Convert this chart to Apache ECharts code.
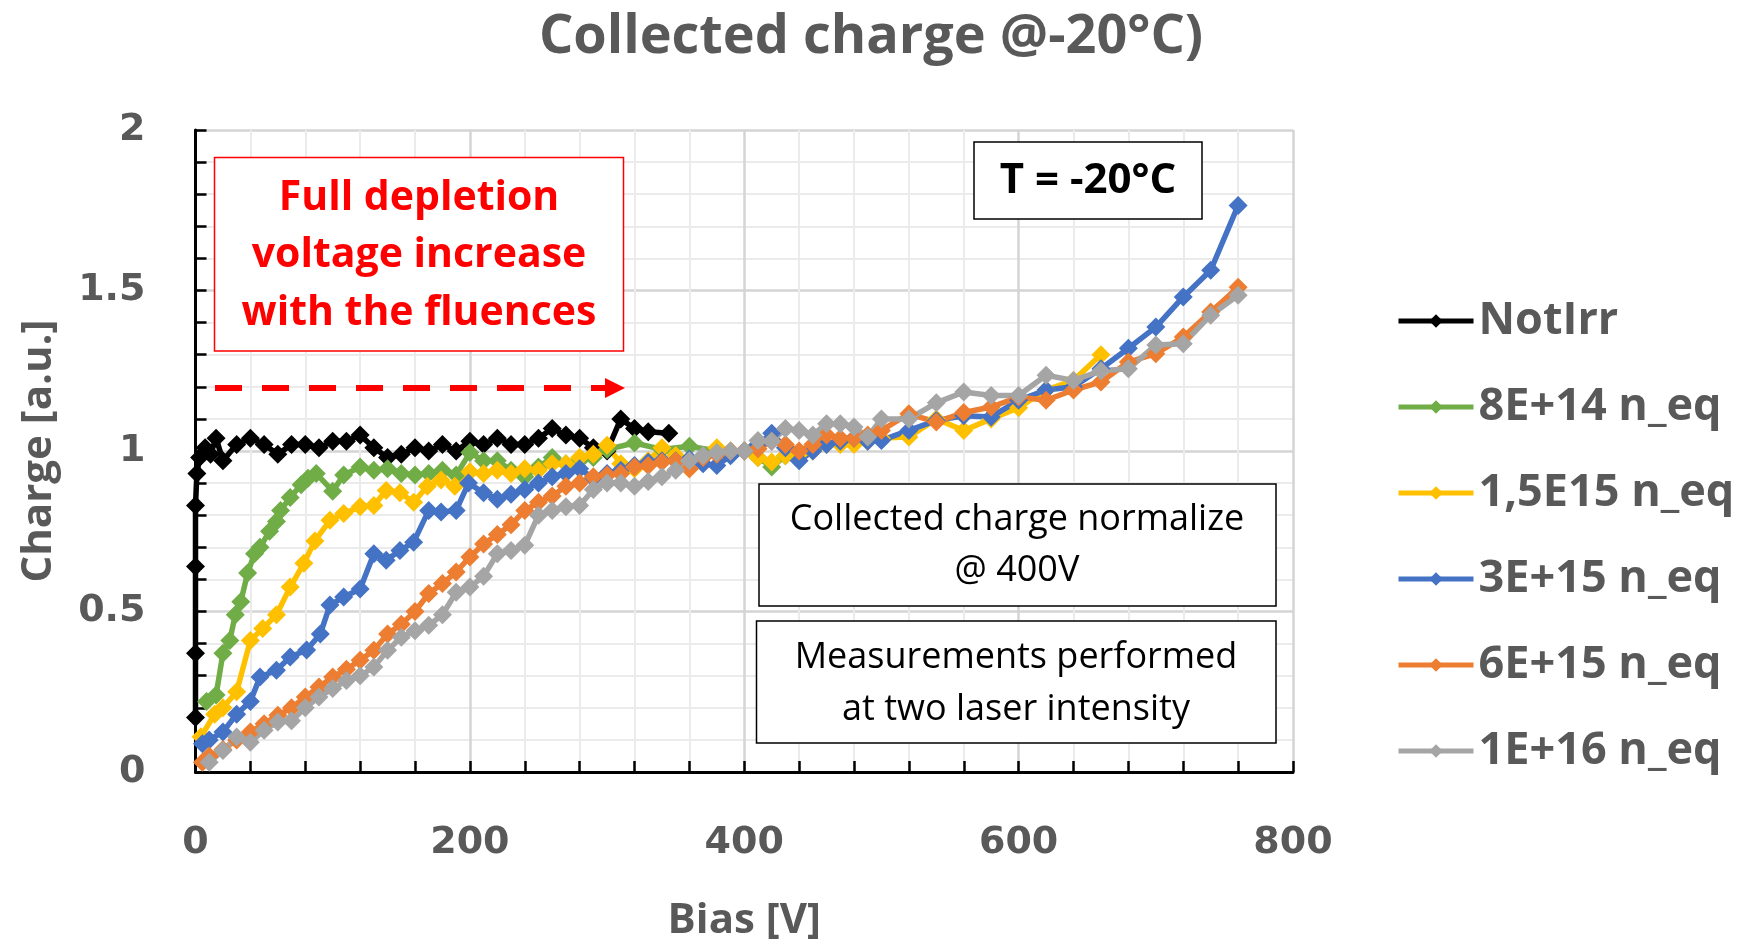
<!DOCTYPE html>
<html><head><meta charset="utf-8">
<script src="https://cdn.jsdelivr.net/npm/echarts@6/dist/echarts.min.js"></script>
<style>html,body{margin:0;padding:0;background:#fff}#c{width:1752px;height:942px}</style>
</head><body><div id="c"></div>
<script>
// ---------- data ----------
const seriesNames = ['NotIrr', '8E+14 n_eq', '1,5E15 n_eq', '3E+15 n_eq', '6E+15 n_eq', '1E+16 n_eq'];
const seriesColors = ['#000000', '#70AD47', '#FFC000', '#4472C4', '#ED7D31', '#A5A5A5'];

const notIrrV = [0,0,0,0,1,3,7,11,15,20,30,40,50,60,70,80,90,100,110,120,130,140,150,160,170,180,190,200,210,220,230,240,250,260,270,280,290,300,310,320,330,345];
const notIrrQ = [0.17,0.37,0.64,0.83,0.93,0.98,1.01,0.99,1.04,0.97,1.02,1.04,1.02,0.99,1.02,1.02,1.01,1.03,1.03,1.05,1.01,0.98,0.99,1.01,1.00,1.02,1.00,1.03,1.02,1.04,1.02,1.02,1.04,1.07,1.05,1.04,1.01,1.00,1.10,1.07,1.06,1.055];

const f8e14V = [8,15,20,25,29,33,38,43,47,54,59,62,69,77,82,88,100,108,120,130,140,150,160,170,180,190,200,210,220,230,240,250,260,270,280,290,300,320,340,360,380,400,410,420,430,440];
const f8e14Q = [0.22,0.24,0.37,0.41,0.49,0.53,0.62,0.68,0.70,0.75,0.78,0.815,0.855,0.895,0.915,0.93,0.875,0.925,0.95,0.94,0.945,0.93,0.925,0.93,0.94,0.925,0.995,0.97,0.97,0.94,0.92,0.95,0.98,0.96,0.97,0.98,1.005,1.025,1.005,1.015,1.0,1.0,0.98,0.95,0.985,0.99];

const f15e15V = [4,14,20,30,40,49,59,69,79,87,98,108,120,130,139,149,159,169,179,189,200,210,220,230,240,250,260,270,280,290,300,310,320,330,340,350,360,370,380,390,400,410,420,430,440,450,460,470,480,490,500,520,540,560,580,600,620,640,660];
const f15e15Q = [0.11,0.18,0.20,0.25,0.41,0.447,0.49,0.576,0.65,0.72,0.784,0.805,0.826,0.83,0.877,0.87,0.84,0.89,0.91,0.89,0.935,0.93,0.94,0.93,0.945,0.94,0.96,0.96,0.98,0.99,1.018,0.96,0.945,0.97,1.01,0.986,0.945,0.98,1.01,1.0,1.0,0.98,0.966,0.986,0.99,1.0,1.02,1.02,1.02,1.03,1.04,1.044,1.1,1.064,1.1,1.135,1.19,1.22,1.3];

const f3e15V = [5,10,20,30,40,47,59,69,81,91,98,108,120,130,139,149,159,170,179,190,199,210,220,230,240,250,260,270,280,290,300,310,320,330,340,350,360,370,380,390,400,410,420,430,440,450,460,470,480,490,500,520,540,560,580,600,620,640,660,680,700,720,740,760];
const f3e15Q = [0.088,0.10,0.125,0.18,0.22,0.296,0.317,0.358,0.38,0.43,0.52,0.545,0.57,0.68,0.66,0.69,0.716,0.815,0.81,0.815,0.90,0.87,0.85,0.865,0.88,0.90,0.92,0.93,0.945,0.915,0.93,0.94,0.955,0.965,0.97,0.97,0.975,0.96,0.955,0.985,1.0,1.02,1.055,1.01,0.97,1.0,1.02,1.03,1.04,1.03,1.033,1.064,1.095,1.11,1.106,1.158,1.19,1.2,1.256,1.32,1.386,1.48,1.563,1.765];

const f6e15V = [5,10,20,30,40,50,60,70,80,90,100,110,120,130,140,150,160,170,180,190,200,210,220,230,240,250,260,270,280,290,300,310,320,330,340,350,360,370,380,390,400,410,420,430,440,450,460,470,480,490,500,520,540,560,580,600,620,640,660,680,700,720,740,760];
const f6e15Q = [0.03,0.05,0.07,0.10,0.125,0.15,0.177,0.20,0.234,0.265,0.296,0.32,0.348,0.379,0.43,0.46,0.50,0.556,0.587,0.623,0.67,0.71,0.74,0.77,0.815,0.84,0.86,0.89,0.90,0.92,0.925,0.93,0.95,0.955,0.966,0.97,0.945,0.98,0.99,1.0,1.0,1.007,1.03,1.02,1.0,1.02,1.05,1.04,1.04,1.05,1.064,1.116,1.09,1.12,1.137,1.168,1.158,1.19,1.215,1.277,1.303,1.355,1.433,1.51];

const f1e16V = [10,20,30,40,50,60,70,80,90,100,110,120,130,140,150,160,170,180,190,200,210,220,230,240,250,260,270,280,290,300,310,320,330,340,350,360,370,380,390,400,410,420,430,440,450,460,470,480,490,500,520,540,560,580,600,620,640,660,680,700,720,740,760];
const f1e16Q = [0.03,0.067,0.109,0.093,0.13,0.156,0.16,0.2,0.234,0.26,0.285,0.30,0.327,0.379,0.42,0.44,0.457,0.49,0.56,0.576,0.61,0.68,0.69,0.706,0.80,0.815,0.826,0.83,0.88,0.90,0.90,0.89,0.905,0.92,0.94,0.97,0.986,0.995,1.0,1.0,1.033,1.03,1.07,1.064,1.05,1.085,1.085,1.075,1.044,1.1,1.1,1.15,1.184,1.173,1.173,1.236,1.22,1.25,1.256,1.33,1.334,1.423,1.485];

const seriesV = [notIrrV, f8e14V, f15e15V, f3e15V, f6e15V, f1e16V];
const seriesQ = [notIrrQ, f8e14Q, f15e15Q, f3e15Q, f6e15Q, f1e16Q];

const titleText = 'Collected charge @-20°C)';
const xName = 'Bias [V]';
const yName = 'Charge [a.u.]';
const redNote = ['Full depletion', 'voltage increase', 'with the fluences'];
const tempNote = 'T = -20°C';
const normNote = ['Collected charge normalize', '@ 400V'];
const measNote = ['Measurements performed', 'at two laser intensity'];

// ---------- chart ----------
const chart = echarts.init(document.getElementById('c'));
const gray = '#595959';
const tickFont = {fontFamily: 'DejaVu Sans', fontWeight: 'bold', fontSize: 38, color: gray};

const series = seriesNames.map((name, i) => ({
  name: name,
  type: 'line',
  data: seriesV[i].map((v, k) => [v, seriesQ[i][k]]),
  symbol: 'diamond',
  symbolSize: 19,
  color: seriesColors[i],
  lineStyle: {width: 5.5, color: seriesColors[i]},
  itemStyle: {color: seriesColors[i]},
  emphasis: {disabled: true}
}));

function boxText(lines, cx, ys, font, color) {
  return lines.map((t, i) => ({
    type: 'text', z: 101,
    style: {x: cx, y: ys[i], text: t, textAlign: 'center', textVerticalAlign: 'middle',
      font: font, fill: color}
  }));
}

const graphics = [
  {type: 'rect', z: 100, shape: {x: 214.5, y: 157.5, width: 409, height: 193.5},
    style: {fill: '#fff', stroke: '#FF0000', lineWidth: 1.5}},
  ...boxText(redNote, 419, [198, 255, 313], 'bold 41px "Open Sans"', '#FF0000'),
  {type: 'line', z: 100, shape: {x1: 215, y1: 388, x2: 606, y2: 388},
    style: {stroke: '#FF0000', lineWidth: 6, lineDash: [27, 20]}},
  {type: 'polygon', z: 100, shape: {points: [[605, 378], [625, 388], [605, 398]]},
    style: {fill: '#FF0000'}},
  {type: 'rect', z: 100, shape: {x: 974, y: 142, width: 228, height: 77},
    style: {fill: '#fff', stroke: '#000', lineWidth: 1.5}},
  ...boxText([tempNote], 1088, [181], 'bold 42px "Open Sans"', '#000'),
  {type: 'rect', z: 100, shape: {x: 759, y: 484, width: 517, height: 122},
    style: {fill: '#fff', stroke: '#000', lineWidth: 1.5}},
  ...boxText(normNote, 1017, [519.5, 571], '36px "Open Sans"', '#000'),
  {type: 'rect', z: 100, shape: {x: 756.5, y: 621, width: 519.5, height: 122},
    style: {fill: '#fff', stroke: '#000', lineWidth: 1.5}},
  ...boxText(measNote, 1016, [658, 709.5], '36px "Open Sans"', '#000')
];

chart.setOption({
  animation: false,
  backgroundColor: '#fff',
  title: {text: titleText, left: 866, top: 6, textAlign: 'center',
    textStyle: {fontFamily: 'Open Sans', fontWeight: 'bold', fontSize: 54, color: gray}},
  legend: {orient: 'vertical', left: 1391, top: 291, itemWidth: 75, itemHeight: 17, itemGap: 36,
    selectedMode: false, data: seriesNames,
    lineStyle: {width: 5},
    textStyle: {fontFamily: 'Open Sans', fontWeight: 'bold', fontSize: 45, color: gray, lineHeight: 50}},
  grid: {left: 195.5, right: 459, top: 130, bottom: 170, containLabel: false, outerBoundsMode: 'none'},
  xAxis: {
    type: 'value', min: 0, max: 800, interval: 200,
    name: xName, nameLocation: 'middle', nameGap: 128,
    nameTextStyle: {fontFamily: 'Open Sans', fontWeight: 'bold', fontSize: 42, color: gray},
    axisLine: {show: true, onZero: false, lineStyle: {color: '#000', width: 3}},
    axisTick: {show: true, inside: true, length: 11, lineStyle: {color: '#000', width: 2.5}},
    minorTick: {show: true, splitNumber: 5, length: 11, lineStyle: {color: '#000', width: 2.5}},
    axisLabel: Object.assign({margin: 52}, tickFont),
    splitLine: {show: true, lineStyle: {color: '#D4D4D4', width: 2.5}},
    minorSplitLine: {show: true, lineStyle: {color: '#EBEBEB', width: 2}}
  },
  yAxis: {
    type: 'value', min: 0, max: 2, interval: 0.5,
    name: yName, nameLocation: 'middle', nameGap: 135, nameRotate: 90,
    nameTextStyle: {fontFamily: 'Open Sans', fontWeight: 'bold', fontSize: 42, color: gray},
    axisLine: {show: true, onZero: false, lineStyle: {color: '#000', width: 3}},
    axisTick: {show: true, inside: true, length: 11, lineStyle: {color: '#000', width: 2.5}},
    minorTick: {show: true, splitNumber: 5, length: 11, lineStyle: {color: '#000', width: 2.5}},
    axisLabel: Object.assign({margin: 50}, tickFont),
    splitLine: {show: true, lineStyle: {color: '#D4D4D4', width: 2.5}},
    minorSplitLine: {show: true, lineStyle: {color: '#EBEBEB', width: 2}}
  },
  series: series,
  graphic: graphics
});
</script>
</body></html>
